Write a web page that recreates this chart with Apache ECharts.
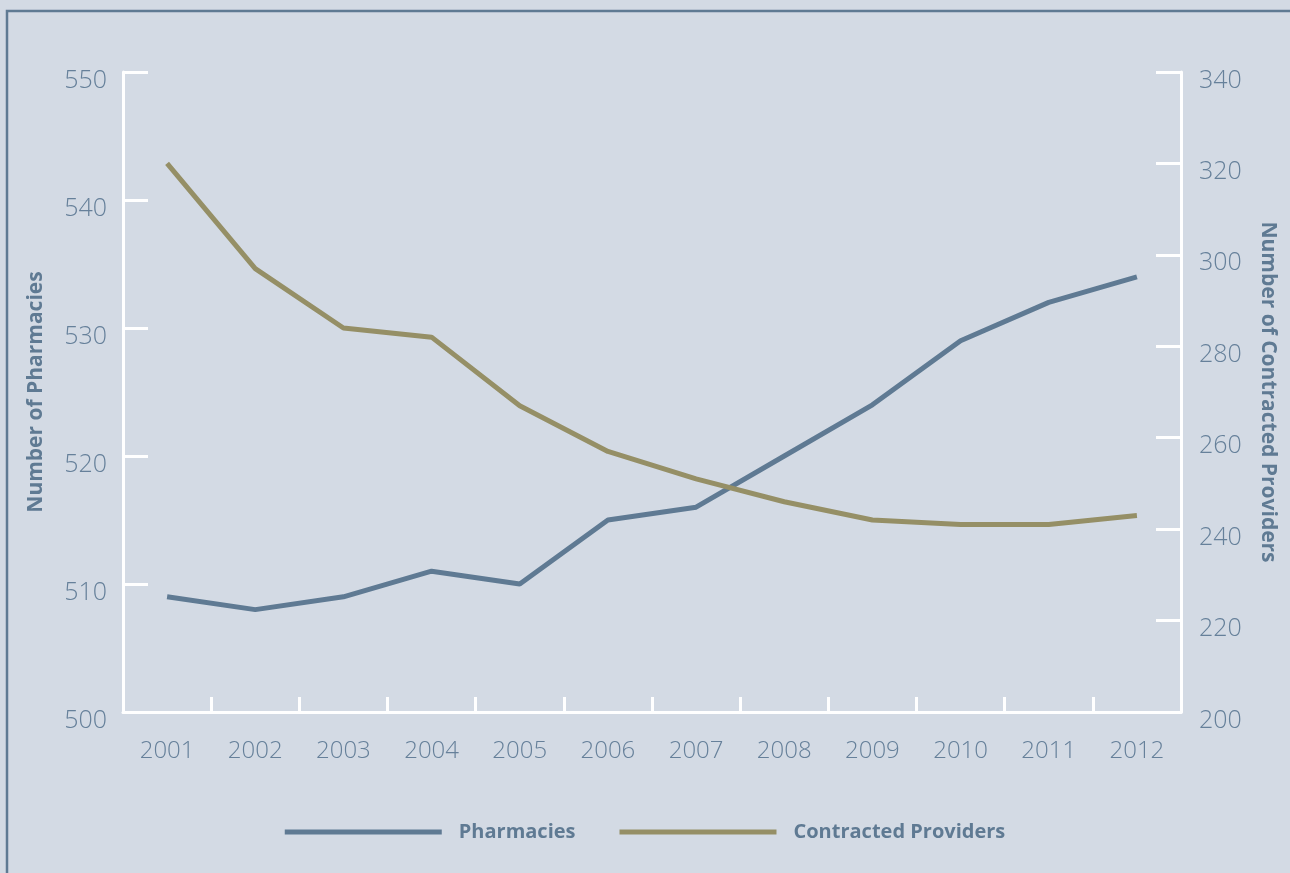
<!DOCTYPE html>
<html>
<head>
<meta charset="utf-8">
<script src="https://cdn.jsdelivr.net/npm/echarts@6/dist/echarts.min.js"></script>
<style>
html,body{margin:0;padding:0;background:#d3dae4;}
#chart{width:1290px;height:873px;}
</style>
</head>
<body>
<div id="chart"></div>
<script>
var years = ['2001','2002','2003','2004','2005','2006','2007','2008','2009','2010','2011','2012'];
var pharmacies = [509, 508, 509, 511, 510, 515, 516, 520, 524, 529, 532, 534];
var contractedProviders = [320, 297, 284, 282, 267, 257, 251, 246, 242, 241, 241, 243];

var labelColor = '#66809a';
var titleColor = '#5f7a93';
var font = 'Open Sans';

var chart = echarts.init(document.getElementById('chart'));
chart.setOption({
  backgroundColor: '#d3dae4',
  animation: false,
  graphic: [{
    type: 'rect',
    shape: {x: 7, y: 11, width: 1300, height: 900},
    style: {fill: 'none', stroke: '#5f7a93', lineWidth: 2.5},
    silent: true
  }],
  grid: {left: 123, right: 109, top: 72, bottom: 161},
  legend: {
    bottom: 26,
    left: 'center',
    icon: 'rect',
    itemWidth: 157,
    itemHeight: 5,
    itemGap: 44,
    textStyle: {color: titleColor, fontFamily: font, fontWeight: 'bold', fontSize: 20, padding: [0, 0, 0, 12]},
    data: ['Pharmacies', 'Contracted Providers']
  },
  xAxis: {
    type: 'category',
    data: years,
    boundaryGap: true,
    axisLine: {lineStyle: {color: '#ffffff', width: 3}},
    axisTick: {show: true, interval: 0, inside: true, length: 15, lineStyle: {color: '#ffffff', width: 3}},
    axisLabel: {color: labelColor, fontFamily: font, fontWeight: 300, fontSize: 24, margin: 27},
    splitLine: {show: false}
  },
  yAxis: [{
    type: 'value',
    min: 500, max: 550, interval: 10,
    position: 'left',
    name: 'Number of Pharmacies',
    nameLocation: 'middle',
    nameGap: 76,
    nameTextStyle: {color: titleColor, fontFamily: font, fontWeight: 'bold', fontSize: 21},
    axisLine: {show: true, lineStyle: {color: '#ffffff', width: 3}},
    axisTick: {show: true, inside: true, length: 25, lineStyle: {color: '#ffffff', width: 3}},
    axisLabel: {color: labelColor, fontFamily: font, fontWeight: 300, fontSize: 25, margin: 16, verticalAlign: 'top', lineHeight: 17},
    splitLine: {show: false}
  }, {
    type: 'value',
    min: 200, max: 340, interval: 20,
    position: 'right',
    name: 'Number of Contracted Providers',
    nameLocation: 'middle',
    nameGap: 76,
    nameRotate: -90,
    nameTextStyle: {color: titleColor, fontFamily: font, fontWeight: 'bold', fontSize: 21},
    axisLine: {show: true, lineStyle: {color: '#ffffff', width: 3}},
    axisTick: {show: true, inside: true, length: 25, lineStyle: {color: '#ffffff', width: 3}},
    axisLabel: {color: labelColor, fontFamily: font, fontWeight: 300, fontSize: 25, margin: 18, verticalAlign: 'top', lineHeight: 17},
    splitLine: {show: false}
  }],
  series: [{
    name: 'Pharmacies',
    type: 'line',
    yAxisIndex: 0,
    data: pharmacies,
    showSymbol: false,
    symbol: 'none',
    lineStyle: {color: '#5f7a93', width: 5},
    itemStyle: {color: '#5f7a93'}
  }, {
    name: 'Contracted Providers',
    type: 'line',
    yAxisIndex: 1,
    data: contractedProviders,
    showSymbol: false,
    symbol: 'none',
    lineStyle: {color: '#958f66', width: 5},
    itemStyle: {color: '#958f66'}
  }]
});
</script>
</body>
</html>
